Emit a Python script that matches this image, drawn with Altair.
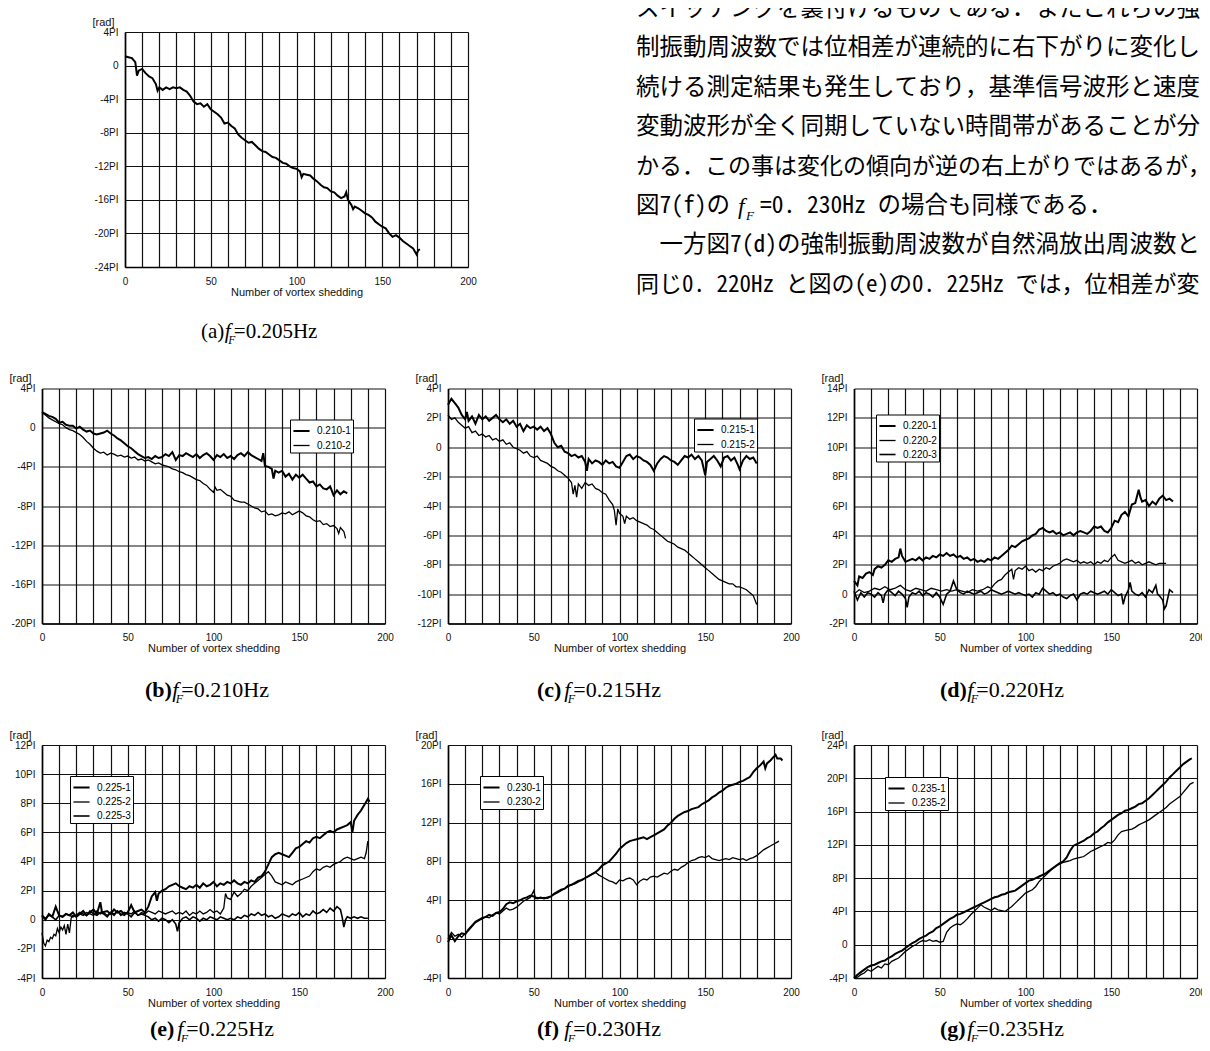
import altair as alt
import pandas as pd

# ---------------- data (phase difference in units of PI vs. shedding count) ----------------
A_0205 = [(0,1.1),(2,1.0),(4,0.9),(6,0.4),(7,-1.2),(8,-0.6),(10,-0.4),(12,-0.9),(14,-1.3),(16,-1.5),
          (18,-2.2),(19,-3.0),(20,-2.6),(22,-2.9),(24,-2.6),(26,-2.8),(28,-2.6),(30,-2.7),(32,-2.6),(34,-2.9),
          (36,-3.1),(38,-3.6),(40,-4.3),(42,-4.6),(44,-4.5),(46,-4.9),(48,-4.6),(50,-5.2),(52,-5.5),(54,-5.8),
          (56,-6.2),(58,-6.9),(60,-6.8),(62,-7.2),(64,-7.5),(66,-8.2),(68,-8.6),(70,-8.9),(72,-9.2),(74,-9.1),
          (76,-9.5),(78,-9.9),(80,-10.2),(82,-10.3),(84,-10.6),(86,-10.9),(88,-11.0),(90,-11.3),(92,-11.6),
          (94,-11.7),(96,-12.0),(98,-12.2),(100,-12.3),(102,-12.6),(103,-13.3),(104,-12.9),(106,-13.0),
          (108,-13.1),(110,-13.5),(112,-13.8),(114,-14.2),(116,-14.5),(118,-14.6),(120,-15.0),(122,-15.1),
          (124,-15.5),(126,-15.8),(128,-15.6),(129,-15.1),(130,-16.0),(132,-16.6),(133,-17.1),(134,-16.8),
          (136,-17.0),(138,-17.3),(140,-17.6),(142,-17.8),(144,-18.1),(146,-18.6),(148,-18.9),(150,-19.2),
          (152,-19.4),(154,-20.0),(156,-20.4),(158,-20.2),(160,-20.5),(162,-20.9),(164,-21.2),(166,-21.5),
          (168,-21.8),(170,-22.5),(171,-22.0),(172,-21.9)]

B_0210_1 = [(0,1.6),(2,1.4),(4,1.2),(6,1.1),(8,0.9),(10,0.5),(12,0.6),(14,0.3),(16,0.2),(18,0.2),(20,-0.1),
            (22,0.1),(24,-0.2),(26,-0.4),(28,-0.3),(30,-0.6),(32,-0.7),(34,-0.6),(36,-0.5),(38,-0.3),(40,-0.6),
            (42,-0.8),(44,-1.1),(46,-1.3),(48,-1.6),(50,-1.9),(52,-2.1),(54,-2.4),(56,-2.7),(58,-2.9),(60,-3.1),
            (62,-3.0),(64,-3.2),(66,-2.9),(68,-3.1),(70,-3.0),(72,-2.7),(74,-2.9),(76,-2.5),(78,-3.3),(80,-2.8),
            (82,-2.9),(84,-2.6),(86,-2.8),(88,-3.0),(90,-2.7),(92,-3.1),(94,-2.8),(96,-2.6),(98,-2.9),(100,-3.3),
            (102,-2.8),(104,-3.0),(106,-2.7),(108,-3.1),(110,-2.9),(112,-3.2),(114,-2.8),(116,-2.6),(118,-2.9),
            (120,-2.5),(122,-2.8),(124,-3.0),(126,-3.2),(128,-3.4),(129,-2.6),(130,-3.9),(132,-4.0),(134,-4.2),
            (135,-5.2),(136,-4.4),(138,-4.6),(140,-4.4),(142,-5.0),(144,-4.7),(146,-5.3),(148,-4.8),(150,-5.1),
            (152,-4.8),(154,-5.2),(156,-5.6),(158,-5.5),(160,-6.0),(162,-5.8),(164,-6.2),(166,-6.3),(168,-6.0),
            (170,-6.9),(172,-6.4),(174,-6.8),(176,-6.5),(178,-6.7)]
B_0210_2 = [(0,1.5),(2,1.3),(4,1.0),(6,0.8),(8,0.6),(10,0.4),(12,0.3),(14,0.0),(16,-0.2),(18,-0.3),(20,-0.5),
            (22,-0.7),(24,-1.0),(26,-1.4),(28,-1.7),(30,-2.1),(32,-2.4),(34,-2.6),(36,-2.5),(38,-2.8),(40,-2.6),
            (42,-2.7),(44,-2.9),(46,-2.8),(48,-3.0),(50,-2.9),(52,-3.1),(54,-3.0),(56,-3.3),(58,-3.2),(60,-3.4),
            (62,-3.3),(64,-3.5),(66,-3.7),(68,-3.6),(70,-3.8),(72,-3.9),(74,-4.0),(76,-4.2),(78,-4.3),(80,-4.5),
            (82,-4.6),(84,-4.8),(86,-4.9),(88,-5.1),(90,-5.3),(92,-5.4),(94,-5.7),(96,-5.9),(98,-6.3),(100,-6.6),
            (101,-6.1),(102,-6.4),(104,-6.3),(106,-6.6),(108,-6.9),(110,-7.0),(112,-7.4),(114,-7.5),(116,-7.6),
            (118,-7.6),(120,-7.8),(122,-8.0),(124,-8.2),(126,-8.3),(128,-8.6),(130,-8.5),(132,-8.9),(134,-8.8),
            (136,-9.0),(138,-8.9),(140,-8.7),(142,-8.8),(144,-8.6),(146,-8.9),(148,-8.7),(150,-8.5),(152,-8.7),
            (154,-9.0),(156,-9.1),(158,-9.4),(160,-9.6),(162,-9.5),(164,-9.9),(166,-9.8),(168,-10.1),(170,-10.0),
            (172,-10.3),(173,-10.8),(174,-10.2),(176,-10.6),(177,-11.3)]

C_0215_1 = [(0,2.9),(2,3.3),(4,3.0),(6,2.7),(8,2.2),(10,1.9),(11,2.4),(12,1.8),(14,2.1),(16,1.6),(18,2.2),
            (20,1.9),(22,2.1),(24,1.8),(26,2.0),(28,2.2),(30,1.9),(32,1.7),(34,1.9),(36,1.6),(38,1.8),(40,1.4),
            (42,1.6),(44,1.1),(46,1.5),(48,1.3),(50,1.4),(52,1.2),(54,1.4),(56,1.1),(58,1.3),(60,0.9),(62,0.3),
            (64,0.0),(66,0.1),(68,-0.3),(70,-0.4),(72,-0.6),(74,-0.5),(76,-0.7),(78,-0.6),(80,-1.0),(81,-1.6),
            (82,-0.8),(84,-1.1),(86,-0.9),(88,-1.0),(90,-1.2),(92,-0.9),(94,-1.1),(96,-1.0),(98,-1.3),(100,-1.4),
            (102,-1.0),(104,-0.6),(106,-0.5),(108,-0.8),(110,-0.6),(112,-0.7),(114,-0.9),(116,-1.0),(118,-1.2),
            (120,-1.6),(122,-1.1),(124,-0.8),(126,-0.6),(128,-0.7),(130,-0.9),(132,-1.0),(134,-1.2),(136,-0.9),
            (138,-0.6),(140,-0.7),(142,-0.5),(144,-0.8),(146,-0.6),(148,-0.9),(150,-1.9),(151,-1.0),(153,-0.8),
            (155,-0.6),(157,-0.9),(159,-1.3),(161,-0.7),(163,-0.6),(165,-0.9),(167,-0.7),(169,-1.2),(170,-1.5),
            (172,-0.9),(174,-0.6),(176,-0.8),(178,-0.7),(180,-1.1)]
C_0215_2 = [(0,2.2),(2,1.9),(4,2.0),(6,1.7),(8,1.5),(10,1.3),(12,1.4),(14,1.0),(16,1.1),(18,0.8),(20,0.9),
            (22,0.7),(24,0.8),(26,0.5),(28,0.6),(30,0.4),(32,0.5),(34,0.2),(36,0.3),(38,0.0),(40,-0.1),(42,-0.2),
            (44,-0.4),(46,-0.3),(48,-0.6),(50,-0.7),(52,-0.6),(54,-0.9),(56,-1.0),(58,-1.1),(60,-1.3),(62,-1.4),
            (64,-1.6),(66,-1.7),(68,-1.9),(70,-2.1),(72,-2.4),(73,-3.2),(74,-2.6),(75,-3.4),(76,-2.5),(78,-2.8),
            (80,-2.4),(82,-2.6),(84,-2.5),(86,-2.8),(88,-2.9),(90,-3.1),(92,-3.2),(94,-3.6),(96,-3.9),(97,-4.3),
            (98,-5.3),(99,-4.2),(100,-4.5),(102,-4.7),(103,-5.2),(104,-4.7),(106,-4.9),(108,-4.8),(110,-5.0),
            (112,-5.1),(114,-5.2),(116,-5.3),(118,-5.5),(120,-5.6),(122,-5.8),(124,-6.0),(126,-6.2),(128,-6.4),
            (130,-6.5),(132,-6.6),(134,-6.8),(136,-6.9),(138,-7.0),(140,-7.2),(142,-7.4),(144,-7.6),(146,-7.8),
            (148,-8.0),(150,-8.2),(152,-8.4),(154,-8.6),(156,-8.8),(158,-9.0),(160,-9.1),(162,-9.2),(164,-9.3),
            (166,-9.3),(168,-9.5),(170,-9.5),(172,-9.6),(174,-9.7),(176,-9.9),(178,-10.1),(180,-10.7)]

D_0220_1 = [(0,0.9),(2,0.6),(3,1.2),(5,1.1),(7,1.4),(9,1.5),(11,1.3),(12,1.7),(14,1.9),(16,1.8),(18,2.0),
            (20,2.3),(22,2.2),(24,2.4),(26,2.5),(27,3.1),(28,2.6),(30,2.2),(32,2.3),(34,2.4),(36,2.3),(38,2.5),
            (40,2.3),(42,2.5),(44,2.4),(46,2.6),(48,2.5),(50,2.7),(52,2.6),(54,2.8),(56,2.6),(58,2.7),(60,2.5),
            (62,2.6),(64,2.4),(66,2.5),(68,2.3),(70,2.4),(72,2.2),(74,2.3),(76,2.2),(78,2.4),(80,2.3),(82,2.5),
            (84,2.4),(86,2.6),(88,2.8),(90,3.0),(92,3.3),(94,3.2),(96,3.4),(98,3.6),(100,3.7),(102,3.8),(104,4.0),
            (106,4.1),(108,4.4),(110,4.5),(112,4.3),(114,4.2),(116,4.3),(118,4.1),(120,4.2),(122,4.0),(124,4.1),
            (126,4.2),(128,4.0),(130,4.2),(132,4.3),(134,4.2),(136,4.1),(138,4.3),(140,4.6),(142,4.5),(144,4.6),
            (146,4.3),(148,4.2),(150,4.5),(152,5.0),(154,4.9),(156,5.4),(158,5.6),(160,5.3),(162,6.1),(164,6.2),
            (166,7.1),(167,6.6),(168,6.3),(170,6.4),(172,6.0),(174,6.3),(176,6.1),(178,6.5),(180,6.7),(182,6.4),
            (184,6.5),(186,6.3)]
D_0220_2 = [(0,0.0),(3,0.3),(6,0.1),(9,0.2),(12,0.4),(15,0.3),(18,0.5),(21,0.3),(24,0.4),(27,0.6),(30,0.3),
            (33,0.2),(36,0.4),(39,0.3),(42,0.2),(45,0.4),(48,0.3),(51,0.2),(54,0.3),(57,0.2),(60,0.3),(63,0.2),
            (66,0.1),(69,0.3),(72,0.2),(75,0.3),(78,0.5),(80,0.4),(82,0.7),(84,0.9),(86,1.0),(88,1.3),(90,1.5),
            (92,1.7),(93,1.0),(94,1.6),(96,1.8),(98,1.7),(100,1.9),(102,1.6),(104,1.7),(106,1.5),(108,1.7),
            (110,1.6),(112,1.8),(114,1.7),(116,1.9),(118,2.0),(120,2.1),(122,2.3),(124,2.4),(126,2.3),(128,2.2),
            (130,2.3),(132,2.1),(134,2.2),(136,2.1),(138,2.2),(140,2.0),(142,2.2),(144,2.1),(146,2.3),(148,2.2),
            (150,2.5),(152,2.7),(154,2.3),(156,2.2),(158,2.1),(160,2.2),(162,2.3),(164,2.1),(166,2.2),(168,2.0),
            (170,2.1),(172,2.2),(174,2.1),(176,2.0),(178,2.1),(180,2.1),(182,2.1)]
D_0220_3 = [(0,0.2),(2,-0.4),(4,0.1),(6,-0.2),(8,0.1),(10,0.0),(12,-0.2),(14,0.1),(16,-0.1),(17,-0.6),(18,0.0),
            (20,0.3),(22,0.1),(24,-0.1),(26,0.2),(28,0.0),(30,-0.3),(31,-0.9),(32,-0.2),(34,0.1),(36,0.0),(38,0.2),
            (40,-0.1),(42,0.1),(44,0.0),(46,-0.2),(48,0.1),(50,-0.2),(52,-0.7),(54,0.0),(56,0.2),(58,0.9),(60,0.3),
            (62,0.1),(64,0.0),(66,0.2),(68,0.1),(70,0.0),(72,0.1),(74,0.2),(76,0.0),(78,0.1),(80,0.3),(82,0.2),
            (84,0.1),(86,0.0),(88,0.1),(90,0.2),(92,0.1),(94,0.0),(96,0.1),(98,0.0),(100,-0.1),(102,0.0),(104,-0.2),
            (106,0.1),(108,0.0),(110,0.4),(112,0.2),(114,0.0),(116,0.1),(118,-0.1),(120,0.0),(122,-0.2),(124,-0.3),
            (126,-0.1),(128,0.0),(130,-0.4),(132,0.0),(134,0.1),(136,0.0),(138,0.2),(140,0.1),(142,0.0),(144,0.1),
            (146,0.2),(148,0.0),(150,0.3),(152,0.1),(154,-0.1),(156,0.0),(157,-0.7),(158,-0.2),(160,0.3),(161,0.8),
            (162,0.2),(164,0.0),(166,-0.1),(168,0.1),(170,-0.2),(172,0.3),(174,0.1),(176,0.6),(177,0.0),(178,-0.1),
            (180,-0.4),(181,-1.0),(182,-0.8),(184,0.3),(186,0.1)]

E_0225_1 = [(0,0.3),(2,0.0),(4,0.4),(6,0.2),(8,0.9),(10,0.3),(12,0.2),(14,0.4),(16,0.3),(18,0.5),(20,0.2),
            (22,0.4),(24,0.6),(26,0.3),(28,0.5),(30,0.7),(32,0.4),(34,1.2),(35,0.5),(38,0.6),(40,0.4),(42,0.7),
            (44,0.5),(46,0.6),(48,0.4),(50,0.5),(52,1.0),(54,0.5),(56,0.6),(58,0.7),(60,0.5),(62,0.9),(64,1.6),
            (66,1.9),(67,1.3),(68,1.8),(70,2.0),(72,2.1),(74,2.3),(76,2.4),(78,2.5),(80,2.3),(82,2.2),(84,2.1),
            (86,2.3),(88,2.2),(90,2.4),(92,2.2),(94,2.5),(96,2.3),(98,2.4),(100,2.6),(102,2.3),(104,2.5),(106,2.4),
            (108,2.6),(110,2.5),(112,2.7),(114,2.5),(116,2.4),(118,2.6),(120,2.5),(122,2.7),(124,2.6),(126,2.9),
            (128,3.0),(130,3.3),(132,3.8),(134,4.3),(136,4.5),(138,4.6),(140,4.5),(142,4.4),(144,4.3),(146,4.6),
            (148,4.9),(150,5.0),(152,5.2),(154,5.4),(156,5.3),(158,5.6),(160,5.7),(162,5.6),(164,5.8),(166,6.0),
            (168,6.1),(170,6.0),(172,6.2),(174,6.3),(176,6.4),(178,6.5),(180,6.7),(181,6.0),(182,6.8),(184,7.2),
            (186,7.5),(188,7.9),(190,8.3),(191,8.1)]
E_0225_2 = [(0,-0.9),(1,-1.6),(2,-1.8),(3,-1.4),(4,-1.5),(5,-1.2),(6,-1.3),(7,-1.0),(8,-1.1),(9,-0.6),(10,-0.9),
            (11,-0.5),(12,-0.7),(13,-0.4),(14,-1.0),(15,-0.3),(16,-0.9),(17,0.1),(18,0.3),(20,0.2),(22,0.4),
            (24,0.3),(26,0.5),(28,0.4),(30,0.3),(32,0.6),(34,0.4),(36,0.5),(38,0.3),(40,0.5),(42,0.4),(44,0.6),
            (46,0.4),(48,0.3),(50,0.5),(52,0.4),(54,0.6),(56,0.3),(58,0.5),(60,0.4),(62,0.6),(64,0.5),(66,0.4),
            (68,0.6),(70,0.5),(72,0.4),(74,0.5),(76,0.6),(78,0.4),(80,0.5),(82,0.4),(84,0.6),(86,0.3),(88,0.5),
            (90,0.4),(92,0.6),(94,0.4),(96,0.5),(98,0.7),(100,0.5),(102,0.6),(104,0.4),(106,0.8),(107,1.8),
            (108,1.5),(110,1.4),(112,1.9),(114,1.6),(116,1.8),(118,2.1),(120,2.0),(122,2.3),(124,2.5),(126,2.7),
            (128,2.9),(130,3.1),(132,3.3),(134,3.0),(136,2.6),(138,2.5),(140,2.4),(142,2.6),(144,2.5),(146,2.4),
            (148,2.6),(150,2.7),(152,2.8),(154,2.9),(156,3.0),(158,3.3),(160,3.5),(162,3.4),(164,3.6),(166,3.7),
            (168,3.6),(170,3.8),(172,3.9),(174,4.0),(176,4.2),(178,4.3),(180,4.2),(182,4.1),(184,4.2),(186,4.3),
            (188,4.2),(189,4.6),(190,5.4)]
E_0225_3 = [(0,0.3),(2,0.1),(4,0.3),(6,0.2),(8,0.0),(10,0.3),(12,0.2),(14,0.4),(16,0.3),(18,0.2),(20,0.3),
            (22,0.5),(24,0.4),(26,0.3),(28,0.6),(30,0.4),(32,0.3),(34,0.5),(36,0.4),(38,0.2),(40,0.5),(42,0.3),
            (44,0.6),(46,0.3),(48,0.5),(50,0.4),(52,0.2),(54,0.5),(56,0.3),(58,0.4),(60,0.3),(62,0.2),(64,0.0),
            (66,0.1),(68,-0.1),(70,0.1),(72,0.0),(74,-0.2),(76,0.0),(78,-0.3),(79,-0.8),(80,-0.2),(82,0.1),(84,0.2),
            (86,0.0),(88,0.2),(90,0.1),(92,-0.1),(94,0.1),(96,0.0),(98,0.2),(100,0.1),(102,0.0),(104,0.2),(106,0.1),
            (108,0.0),(110,0.1),(112,0.0),(114,0.2),(116,0.1),(118,0.3),(120,0.2),(122,0.4),(124,0.3),(126,0.5),
            (128,0.3),(130,0.4),(132,0.2),(134,0.3),(136,0.1),(138,0.2),(140,0.4),(142,0.3),(144,0.2),(146,0.4),
            (148,0.3),(150,0.5),(152,0.2),(154,0.4),(156,0.3),(158,0.6),(160,0.4),(162,0.5),(164,0.7),(166,0.5),
            (168,0.8),(170,0.6),(172,0.9),(174,0.7),(175,0.2),(176,-0.5),(177,0.0),(178,0.2),(180,0.1),(182,0.2),
            (184,0.1),(186,0.2),(188,0.1),(190,0.1)]

F_0230_1 = [(0,-0.3),(2,0.4),(4,-0.2),(6,0.3),(8,0.6),(10,0.5),(12,1.0),(14,1.4),(16,1.8),(18,2.0),(20,2.2),
            (22,2.3),(24,2.5),(26,2.4),(28,2.7),(30,2.8),(32,3.1),(34,3.6),(36,3.8),(38,3.7),(40,3.9),(42,4.0),
            (44,4.2),(46,4.3),(48,4.5),(50,4.4),(52,4.2),(54,4.3),(56,4.2),(58,4.3),(60,4.4),(62,4.7),(64,4.9),
            (66,5.1),(68,5.2),(70,5.5),(72,5.6),(74,5.8),(76,6.0),(78,6.1),(80,6.3),(82,6.5),(84,6.7),(86,6.9),
            (88,7.2),(90,7.6),(92,7.8),(94,8.0),(96,8.4),(98,8.8),(100,9.3),(102,9.6),(104,9.9),(106,10.1),
            (108,10.2),(110,10.3),(112,10.4),(114,10.5),(116,10.3),(118,10.5),(120,10.7),(122,10.9),(124,11.1),
            (126,11.3),(128,11.7),(130,12.0),(132,12.4),(134,12.7),(136,12.9),(138,13.1),(140,13.2),(142,13.4),
            (144,13.5),(146,13.6),(148,13.9),(150,14.1),(152,14.3),(154,14.6),(156,14.8),(158,15.1),(160,15.3),
            (162,15.6),(164,15.8),(166,15.9),(168,16.0),(170,16.2),(172,16.3),(174,16.5),(176,16.7),(178,17.2),
            (180,17.6),(182,17.9),(184,18.3),(185,17.6),(186,18.1),(188,18.4),(190,18.8),(191,19.0),(192,18.6),
            (194,18.6),(195,18.4)]
F_0230_2 = [(0,0.0),(2,0.7),(4,0.3),(6,0.5),(8,0.2),(10,0.6),(12,0.9),(14,1.3),(16,1.7),(18,1.9),(20,2.1),
            (22,2.3),(24,2.2),(26,2.5),(28,2.7),(30,2.6),(32,2.9),(34,3.2),(36,3.0),(38,3.1),(40,3.3),(42,3.6),
            (44,3.9),(46,4.1),(48,4.3),(50,5.0),(51,4.2),(52,4.3),(54,4.2),(56,4.3),(58,4.2),(60,4.4),(62,4.6),
            (64,4.8),(66,5.0),(68,5.2),(70,5.4),(72,5.6),(74,5.7),(76,5.9),(78,6.1),(80,6.3),(82,6.5),(84,6.7),
            (86,6.9),(88,6.6),(90,6.4),(92,6.2),(94,6.0),(96,5.9),(98,5.7),(100,6.1),(102,6.0),(104,6.2),(106,6.3),
            (108,6.1),(110,5.6),(112,6.0),(114,6.2),(116,6.1),(118,6.4),(120,6.5),(122,6.4),(124,6.6),(126,6.8),
            (128,6.7),(130,7.0),(132,7.2),(134,7.1),(136,7.4),(138,7.6),(140,7.9),(142,8.1),(144,8.2),(146,8.4),
            (148,8.5),(150,8.4),(152,8.6),(154,8.3),(156,8.2),(158,8.1),(160,8.2),(162,8.3),(164,8.2),(166,8.4),
            (168,8.3),(170,8.2),(172,8.3),(174,8.1),(176,8.3),(178,8.4),(180,8.6),(182,8.9),(184,9.2),(186,9.4),
            (188,9.6),(190,9.8),(192,10.0),(193,10.1)]

G_0235_1 = [(0,-4.0),(2,-3.6),(4,-3.3),(6,-3.0),(8,-2.7),(10,-2.5),(12,-2.4),(14,-2.2),(16,-2.0),(18,-1.9),
            (20,-1.6),(22,-1.4),(24,-1.1),(26,-0.9),(28,-0.7),(30,-0.4),(32,-0.1),(34,0.2),(36,0.4),(38,0.7),
            (40,0.9),(42,1.1),(44,1.4),(46,1.6),(48,2.0),(50,2.2),(52,2.5),(54,2.8),(56,3.1),(58,3.3),(60,3.6),
            (62,3.7),(64,3.9),(66,4.1),(68,4.3),(70,4.5),(72,4.7),(74,4.9),(76,5.1),(78,5.3),(80,5.5),(82,5.7),
            (84,5.8),(86,6.0),(88,6.1),(90,6.3),(92,6.4),(94,6.5),(96,6.8),(98,7.1),(100,7.4),(102,7.7),(104,7.8),
            (106,8.0),(108,8.2),(110,8.4),(112,8.6),(114,8.9),(116,9.2),(118,9.5),(120,9.8),(122,10.0),(124,10.5),
            (126,11.3),(128,11.9),(130,12.1),(132,12.3),(134,12.5),(136,12.8),(138,13.0),(140,13.4),(142,13.6),
            (144,14.0),(146,14.3),(148,14.7),(150,15.0),(152,15.3),(154,15.6),(156,15.8),(158,16.1),(160,16.2),
            (162,16.4),(164,16.6),(166,16.9),(168,17.0),(170,17.3),(172,17.6),(174,18.0),(176,18.4),(178,18.8),
            (180,19.2),(182,19.6),(184,20.1),(186,20.5),(188,20.9),(190,21.3),(192,21.7),(194,22.0),(196,22.3),
            (197,22.4)]
G_0235_2 = [(0,-4.0),(2,-3.9),(4,-3.6),(6,-3.4),(8,-3.0),(10,-3.2),(12,-2.9),(14,-2.6),(16,-2.8),(18,-2.3),
            (20,-2.4),(22,-2.0),(24,-1.8),(26,-1.6),(28,-1.2),(30,-0.8),(32,-0.5),(34,-0.2),(36,0.0),(38,0.3),
            (40,0.5),(42,0.4),(44,0.6),(46,0.4),(48,0.5),(50,0.3),(52,0.4),(54,1.5),(56,2.0),(58,2.3),(60,2.5),
            (62,2.4),(64,2.7),(66,3.1),(68,3.6),(70,4.0),(72,4.4),(74,4.8),(76,4.5),(78,4.3),(80,4.1),(82,4.4),
            (84,4.2),(86,4.1),(88,4.0),(90,4.3),(92,4.6),(94,5.0),(96,5.4),(98,5.8),(100,6.2),(102,6.4),(104,6.6),
            (106,7.0),(108,7.6),(110,8.0),(112,8.4),(114,8.8),(116,9.2),(118,9.5),(120,9.7),(122,9.9),(124,10.0),
            (126,10.1),(128,10.3),(130,10.4),(132,10.5),(134,10.6),(136,10.9),(138,11.2),(140,11.4),(142,11.6),
            (144,11.8),(146,12.0),(148,12.3),(150,12.2),(152,12.6),(154,13.2),(156,13.6),(158,13.7),(160,13.8),
            (162,13.9),(164,14.1),(166,14.4),(168,14.6),(170,14.8),(172,15.0),(174,15.3),(176,15.6),(178,15.9),
            (180,16.2),(182,16.5),(184,16.9),(186,17.2),(188,17.5),(190,17.8),(192,18.3),(194,18.8),(196,19.3),
            (198,19.5)]

# axis ticks / labels
X_GRID = list(range(0, 201, 10))
X_TITLE = "Number of vortex shedding"
Y_TITLE = "[rad]"

# paragraph text (Japanese body text beside figure (a))
JP_LINES = [
    "スイッチングを裏付けるものである．またこれらの強",
    "制振動周波数では位相差が連続的に右下がりに変化し",
    "続ける測定結果も発生しており，基準信号波形と速度",
    "変動波形が全く同期していない時間帯があることが分",
    "かる．この事は変化の傾向が逆の右上がりではあるが，",
    "",
    "一方図7(d)の強制振動周波数が自然渦放出周波数と",
    "同じ0. 220Hz と図の(e)の0. 225Hz では，位相差が変",
]
JP_L6 = ("図7(f)の", "f", "F", "=0. 230Hz の場合も同様である．")

SANS = "Liberation Sans"
SERIF = "Liberation Serif"
JP_FONT = "Noto Sans Mono CJK JP, Noto Sans CJK JP"
W = 343


def txt(s, x, y, size, font, style="normal", weight="normal", baseline="alphabetic"):
    return alt.Chart(pd.DataFrame({"t": [s]})).mark_text(
        align="left", baseline=baseline, fontSize=size, font=font,
        fontStyle=style, fontWeight=weight, color="black"
    ).encode(x=alt.value(x), y=alt.value(y), text="t:N")


def caption(letter, freq, x0, y0, size, bold):
    w_letter = size * (1.22 if bold else 1.11)
    return [
        txt(f"({letter})", x0, y0, size, SERIF, weight="bold" if bold else "normal"),
        txt("f", x0 + w_letter + 0.5, y0, size, SERIF, style="italic"),
        txt("F", x0 + w_letter + 4, y0 + size * 0.3, size * 0.55, SERIF, style="italic"),
        txt(f"={freq}Hz", x0 + w_letter + 9.5, y0, size, SERIF),
    ]


def panel(names, series, ymin, ymax, ystep, h, legend_xy, letter, freq, cap_xy, cap_size, bold, extra=()):
    rows = []
    for name, pts in zip(names, series):
        for i, (n, v) in enumerate(pts):
            rows.append({"n": n, "phase": v, "series": name, "k": i})
    df = pd.DataFrame(rows)
    yvals = list(range(ymin, ymax + 1, ystep))
    xaxis = alt.Axis(values=X_GRID, labelExpr="datum.value % 50 == 0 ? datum.label : ''",
                     title=X_TITLE, labelFlush=False, labelOverlap=False, labelPadding=9,
                     titlePadding=0, format="d")
    yaxis = alt.Axis(values=yvals, labelExpr="datum.value == 0 ? '0' : datum.value + 'PI'",
                     title=Y_TITLE, titleAngle=0, titleX=-22, titleY=-5, titleAlign="center",
                     titleBaseline="bottom", labelPadding=7, labelOverlap=False, labelFlush=False)
    if legend_xy is not None:
        legend = alt.Legend(orient="none", legendX=legend_xy[0], legendY=legend_xy[1], title=None,
                            fillColor="white", strokeColor="black", padding=2, symbolType="stroke",
                            symbolSize=260, symbolStrokeWidth=1.4, labelFont=SANS, labelFontSize=10,
                            labelColor="black", rowPadding=0, labelOffset=6)
    else:
        legend = None
    widths = [2.0, 1.3, 1.6][: len(names)]
    lines = alt.Chart(df).mark_line().encode(
        x=alt.X("n:Q", scale=alt.Scale(domain=[0, 200], nice=False, zero=False), axis=xaxis),
        y=alt.Y("phase:Q", scale=alt.Scale(domain=[ymin, ymax], nice=False, zero=False), axis=yaxis),
        color=alt.Color("series:N", scale=alt.Scale(domain=names, range=["black"] * len(names)), legend=legend),
        strokeWidth=alt.StrokeWidth("series:N", scale=alt.Scale(type="ordinal", domain=names, range=widths),
                                    legend=None),
        order="k:Q",
    )
    caps = caption(letter, freq, cap_xy[0], cap_xy[1], cap_size, bold)
    return alt.layer(lines, *caps, *extra).properties(width=W, height=h)


# Japanese paragraph positioned relative to panel (a) origin (page x 125, y 32)
JP_X = 511
JP_SIZE = 23.5
JP_SIZES = [23.5, 23.5, 23.5, 23.5, 23.0, 23.5, 23.5, 23.0]
jp_layers = []
for i, line in enumerate(JP_LINES):
    if line:
        x = JP_X + (JP_SIZE if i == 6 else 0)
        jp_layers.append(txt(line, x, 9 + 39.4 * i - 32, JP_SIZES[i], JP_FONT, baseline="middle"))
y6 = 9 + 39.4 * 5 - 32
jp_layers += [
    txt(JP_L6[0], JP_X, y6, JP_SIZE, JP_FONT, baseline="middle"),
    txt(JP_L6[1], 613, y6 + 8, JP_SIZE, SERIF, style="italic"),
    txt(JP_L6[2], 621, y6 + 14, 13, SERIF, style="italic"),
    txt(JP_L6[3], 635, y6, JP_SIZE, JP_FONT, baseline="middle"),
]

pa = panel(["0.205"], [A_0205], -24, 4, 4, 235, None, "a", "0.205", (76, 306), 21, False, jp_layers)
pb = panel(["0.210-1", "0.210-2"], [B_0210_1, B_0210_2], -20, 4, 4, 235, (248, 31), "b", "0.210", (103, 308), 22, True)
pc = panel(["0.215-1", "0.215-2"], [C_0215_1, C_0215_2], -12, 4, 2, 235, (246, 30), "c", "0.215", (89, 308), 22, True)
pd_ = panel(["0.220-1", "0.220-2", "0.220-3"], [D_0220_1, D_0220_2, D_0220_3], -2, 14, 2, 235, (22, 26), "d", "0.220", (86, 308), 22, True)
pe = panel(["0.225-1", "0.225-2", "0.225-3"], [E_0225_1, E_0225_2, E_0225_3], -4, 12, 2, 233, (28, 31), "e", "0.225", (108, 291), 22, True)
pf = panel(["0.230-1", "0.230-2"], [F_0230_1, F_0230_2], -4, 20, 4, 233, (32, 31), "f", "0.230", (89, 291), 22, True)
pg = panel(["0.235-1", "0.235-2"], [G_0235_1, G_0235_2], -4, 24, 4, 233, (31, 32), "g", "0.235", (86, 291), 22, True)

spacer = alt.Chart(pd.DataFrame({"v": [0]})).mark_point(opacity=0).encode(
    x=alt.value(0), y=alt.value(0)).properties(width=1, height=235)


def indep(c):
    return c.resolve_scale(color="independent", strokeWidth="independent").resolve_legend(color="independent")


row1 = indep(alt.hconcat(spacer, pa, spacing=82, bounds="flush"))
row2 = indep(alt.hconcat(pb, pc, pd_, spacing=63, bounds="flush"))
row3 = indep(alt.hconcat(pe, pf, pg, spacing=63, bounds="flush"))

# nested flush rows count as zero height, so the spacing is the row-to-row pitch
chart = indep(alt.vconcat(row1, row2, row3, spacing=356.5, bounds="flush")).properties(
    padding={"left": 34, "top": 24, "right": 1160, "bottom": 1010},
    autosize=alt.AutoSizeParams(type="none"),
    background="white",
).configure_view(stroke=None).configure_axis(
    domain=True, domainColor="black", domainWidth=1.6,
    grid=True, gridColor="#111111", gridWidth=1.2, gridOpacity=1,
    ticks=False,
    labelFont=SANS, labelFontSize=10, labelColor="#111111",
    titleFont=SANS, titleFontSize=11, titleFontWeight="normal", titleColor="#111111",
)

chart.save("out.html", embed_options={"renderer": "svg", "actions": False})
